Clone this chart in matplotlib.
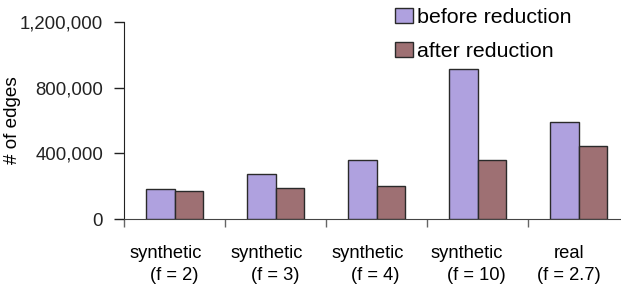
import matplotlib
matplotlib.use("Agg")
import matplotlib.pyplot as plt
import matplotlib.transforms as mtransforms
from matplotlib.ticker import FuncFormatter
import numpy as np

categories_line1 = ["synthetic", "synthetic", "synthetic", "synthetic", "real"]
categories_line2 = ["(f = 2)", "(f = 3)", "(f = 4)", "(f = 10)", "(f = 2.7)"]
before_reduction = [183000, 274000, 361000, 912000, 593000]
after_reduction = [172000, 191000, 201000, 357000, 443000]
series_labels = ["before reduction", "after reduction"]
yticks = [0, 400000, 800000, 1200000]

plt.rcParams['font.family'] = ['Liberation Sans', 'DejaVu Sans']

W, H = 621, 287
fig = plt.figure(figsize=(W / 100, H / 100), dpi=100)
left, right_px, zero_px, top_px = 124, 629, 219, 22
ax = fig.add_axes([left / W, (H - zero_px) / H, (right_px - left) / W, (zero_px - top_px) / H])

n = len(before_reduction)
x = np.arange(n)
bw = 0.287
c_before = "#AFA1DF"
c_after = "#9E7073"
edge = "#2a2a2a"
b1 = ax.bar(x - bw / 2, before_reduction, bw, color=c_before, edgecolor=edge, linewidth=1.0,
            label=series_labels[0], zorder=3)
b2 = ax.bar(x + bw / 2, after_reduction, bw, color=c_after, edgecolor=edge, linewidth=1.0,
            label=series_labels[1], zorder=3)

ax.set_xlim(-0.5, n - 0.5)
ax.set_ylim(0, 1200000)
ax.set_yticks(yticks)
ax.yaxis.set_major_formatter(FuncFormatter(lambda v, p: f"{int(v):,}"))
ax.tick_params(axis='y', direction='out', length=7, width=1, pad=8, labelsize=13.4, colors='#222222')
ax.set_xticks(np.arange(n + 1) - 0.5)
ax.set_xticklabels([])
ax.tick_params(axis='x', direction='out', length=6, width=1, color='#666666')

for s in ['top', 'right']:
    ax.spines[s].set_visible(False)
ax.spines['left'].set_color('#222222')
ax.spines['bottom'].set_color('#444444')

ax.set_ylabel("# of edges", fontsize=13.6, labelpad=4)
ax.yaxis.set_label_coords(-0.203, 0.5)

trans = ax.get_xaxis_transform()
off1 = [-9, -9, -8.5, -10.5, -9]
off2 = [0, 0, -1, -1.5, -9.5]
for i in range(n):
    t1 = mtransforms.offset_copy(trans, fig=fig, x=off1[i], y=-39, units='dots')
    ax.text(x[i], 0, categories_line1[i], transform=t1, ha='center', va='baseline', fontsize=13.2)
    t2 = mtransforms.offset_copy(trans, fig=fig, x=off2[i], y=-61, units='dots')
    ax.text(x[i], 0, categories_line2[i], transform=t2, ha='center', va='baseline', fontsize=13.2)

leg = fig.legend(handles=[b1, b2], labels=series_labels, loc='upper left',
                 bbox_to_anchor=(395 / W, 1 - 8 / H), frameon=False, fontsize=15.4,
                 handlelength=0.84, handleheight=0.7, handletextpad=0.17,
                 borderpad=0, borderaxespad=0, labelspacing=0.69)

fig.savefig("out.png", dpi=100)
